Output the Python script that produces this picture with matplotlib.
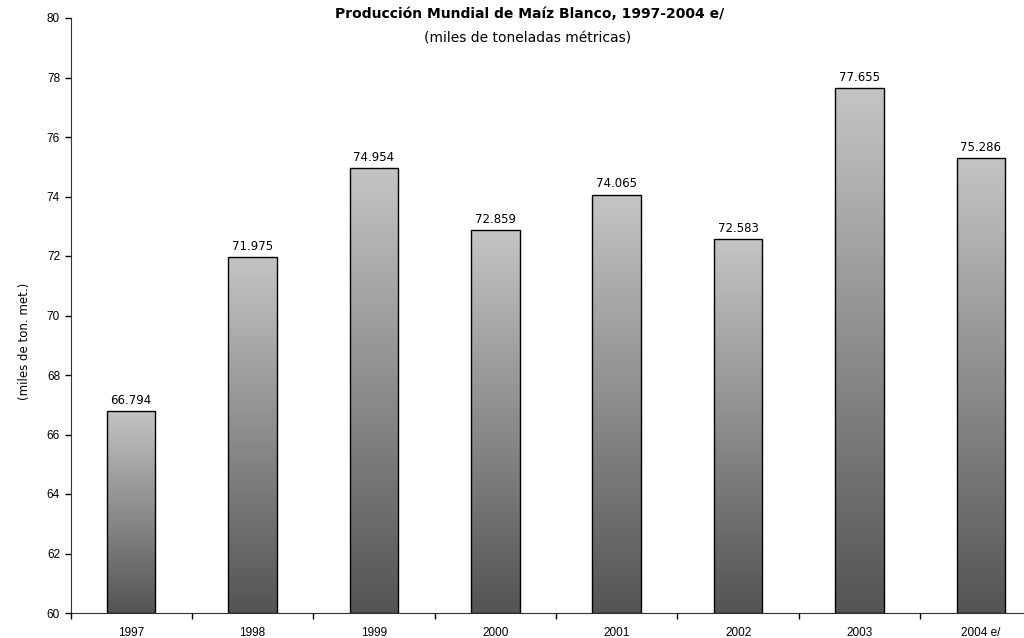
import numpy as np
import matplotlib.pyplot as plt
from matplotlib.colors import LinearSegmentedColormap

plt.rcParams['font.family'] = ['Liberation Sans', 'DejaVu Sans']

years = ["1997", "1998", "1999", "2000", "2001", "2002", "2003", "2004 e/"]
values = [66.794, 71.975, 74.954, 72.859, 74.065, 72.583, 77.655, 75.286]
labels = ["66.794", "71.975", "74.954", "72.859", "74.065", "72.583", "77.655", "75.286"]

fig = plt.figure(figsize=(10.24, 6.38), dpi=100)
# right end of the plot area falls outside the picture, as in the original
ax = fig.add_axes([70.5 / 1024, 1 - 613 / 638, 971 / 1024, 595 / 638])

x = np.arange(len(years))
width = 0.4
ymin = 60
cmap = LinearSegmentedColormap.from_list("g", ["#545454", "#c4c4c4"])
grad = np.linspace(0, 1, 256).reshape(-1, 1)

bars = ax.bar(x, np.array(values) - ymin, width, bottom=ymin,
              facecolor="none", edgecolor="black", linewidth=1, zorder=3)
for b, v, lab in zip(bars, values, labels):
    x0 = b.get_x()
    im = ax.imshow(grad, cmap=cmap, aspect="auto", origin="lower",
                   extent=[x0, x0 + width, ymin, v], zorder=2)
    im.set_clip_path(b)
    ax.text(x0 + width / 2, v + 0.24, lab, ha="center", va="baseline",
            fontsize=8.5, family="DejaVu Sans")

ax.set_xlim(-0.5, len(years) - 0.5)
ax.set_ylim(60, 80)
ax.set_yticks(np.arange(60, 81, 2))
ax.set_xticks(x)
ax.set_xticklabels(years, fontsize=8.5)
ax.set_xticks(np.arange(-0.5, len(years), 1), minor=True)
ax.tick_params(axis="x", which="major", length=0, pad=10)
ax.tick_params(axis="x", which="minor", length=4, width=1, direction="out")
ax.tick_params(axis="y", length=4, width=1, labelsize=8.5, direction="out")
for s in ["top", "right"]:
    ax.spines[s].set_visible(False)
ax.spines["left"].set_color("#333333")
ax.spines["bottom"].set_color("#333333")

fig.text(530 / 1024, 1 - 14 / 638, "Producción Mundial de Maíz Blanco, 1997-2004 e/",
         ha="center", va="center", fontsize=10, fontweight="bold", family="DejaVu Sans")
fig.text(528 / 1024, 1 - 39 / 638, "(miles de toneladas métricas)",
         ha="center", va="center", fontsize=10, family="DejaVu Sans")
fig.text(25 / 1024, 1 - 341 / 638, "(miles de ton. met.)", rotation=90,
         ha="center", va="center", fontsize=8.5, family="DejaVu Sans")

fig.savefig("out.png", dpi=100)
